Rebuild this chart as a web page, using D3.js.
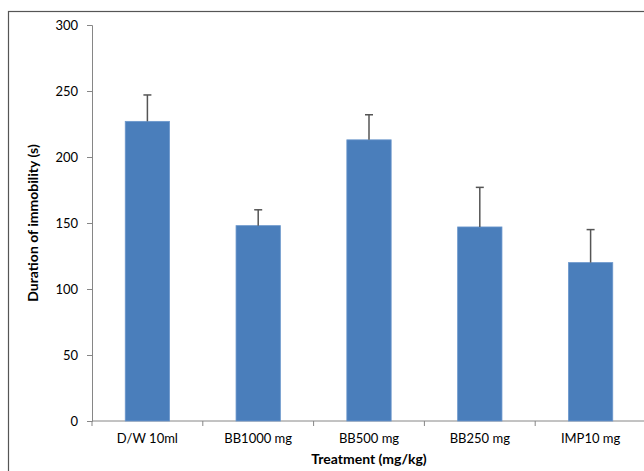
<!DOCTYPE html>
<html>
<head>
<meta charset="utf-8">
<script src="https://cdn.jsdelivr.net/npm/d3@7"></script>
<style>
    body { margin: 0; background: #fff; }
    text { font-family: Lato, 'Open Sans', sans-serif; }
</style>
</head>
<body>
<div id="chart"></div>
<script>
'use strict';

// Data
var categories = ['D/W 10ml', 'BB1000 mg', 'BB500 mg', 'BB250 mg', 'IMP10 mg'];
var means = [227, 148, 213, 147, 120];
var errors = [20, 12, 19, 30, 25];
var yTicks = [0, 50, 100, 150, 200, 250, 300];

var width = 644;
var height = 471;
var margin = { top: 25, left: 92, bottom: 50 };

var svg = d3.select('#chart')
        .append('svg')
        .attr('width', width)
        .attr('height', height);

// Outer frame (right side runs off the picture)
svg.append('rect')
        .attr('x', 8.5)
        .attr('y', 11.5)
        .attr('width', width + 10)
        .attr('height', height)
        .attr('fill', 'none')
        .attr('stroke', '#555')
        .attr('stroke-width', 1.2);

var x = d3.scaleBand()
        .domain(categories)
        .range([margin.left, margin.left + 5 * 110.8])
        .paddingInner(0.6)
        .paddingOuter(0.3);

var y = d3.scaleLinear()
        .domain([0, 300])
        .range([421, margin.top]);

// Y axis
var yAxis = svg.append('g')
        .attr('transform', 'translate(' + margin.left + ',0)')
        .call(d3.axisLeft(y).tickValues(yTicks).tickSize(5).tickPadding(9));
yAxis.select('.domain').attr('stroke', '#868686');
yAxis.selectAll('.tick line').attr('stroke', '#868686');
yAxis.selectAll('.tick text')
        .attr('fill', '#000')
        .style('font-size', '13px');

// X axis, ticks between categories
var step = x.step();
var xAxisG = svg.append('g')
        .attr('transform', 'translate(0,421)');
xAxisG.append('line')
        .attr('x1', margin.left)
        .attr('x2', margin.left + 5 * step)
        .attr('stroke', '#868686');
xAxisG.selectAll('line.tk')
        .data(d3.range(categories.length + 1))
        .enter()
        .append('line')
        .attr('class', 'tk')
        .attr('x1', function(d) { return margin.left + d * step; })
        .attr('x2', function(d) { return margin.left + d * step; })
        .attr('y1', 0)
        .attr('y2', 5)
        .attr('stroke', '#868686');
xAxisG.selectAll('text')
        .data(categories)
        .enter()
        .append('text')
        .attr('x', function(d) { return x(d) + x.bandwidth() / 2; })
        .attr('y', 22)
        .attr('text-anchor', 'middle')
        .style('font-size', '13px')
        .text(function(d) { return d; });

// Bars
svg.selectAll('rect.bar')
        .data(means)
        .enter()
        .append('rect')
        .attr('class', 'bar')
        .attr('x', function(d, i) { return x(categories[i]); })
        .attr('y', function(d) { return y(d); })
        .attr('width', x.bandwidth())
        .attr('height', function(d) { return y(0) - y(d); })
        .attr('fill', '#4a7ebb')
        .attr('stroke', '#6b97cc')
        .attr('stroke-width', 0.8);

// Error bars (upper only)
var err = svg.selectAll('g.err')
        .data(means)
        .enter()
        .append('g')
        .attr('class', 'err')
        .attr('transform', function(d, i) {
            return 'translate(' + (x(categories[i]) + x.bandwidth() / 2) + ',0)';
        });
err.append('line')
        .attr('y1', function(d) { return y(d); })
        .attr('y2', function(d, i) { return y(d + errors[i]); })
        .attr('stroke', '#555')
        .attr('stroke-width', 1.5);
err.append('line')
        .attr('x1', -4)
        .attr('x2', 4)
        .attr('y1', function(d, i) { return y(d + errors[i]); })
        .attr('y2', function(d, i) { return y(d + errors[i]); })
        .attr('stroke', '#555')
        .attr('stroke-width', 1.5);

// Axis titles
svg.append('text')
        .attr('x', margin.left + 2.5 * step)
        .attr('y', 464)
        .attr('text-anchor', 'middle')
        .style('font-size', '14px')
        .style('font-weight', 'bold')
        .text('Treatment (mg/kg)');

svg.append('text')
        .attr('transform', 'translate(38,' + y(150) + ') rotate(-90)')
        .attr('text-anchor', 'middle')
        .style('font-size', '14px')
        .style('font-weight', 'bold')
        .text('Duration of immobility (s)');
</script>
</body>
</html>
